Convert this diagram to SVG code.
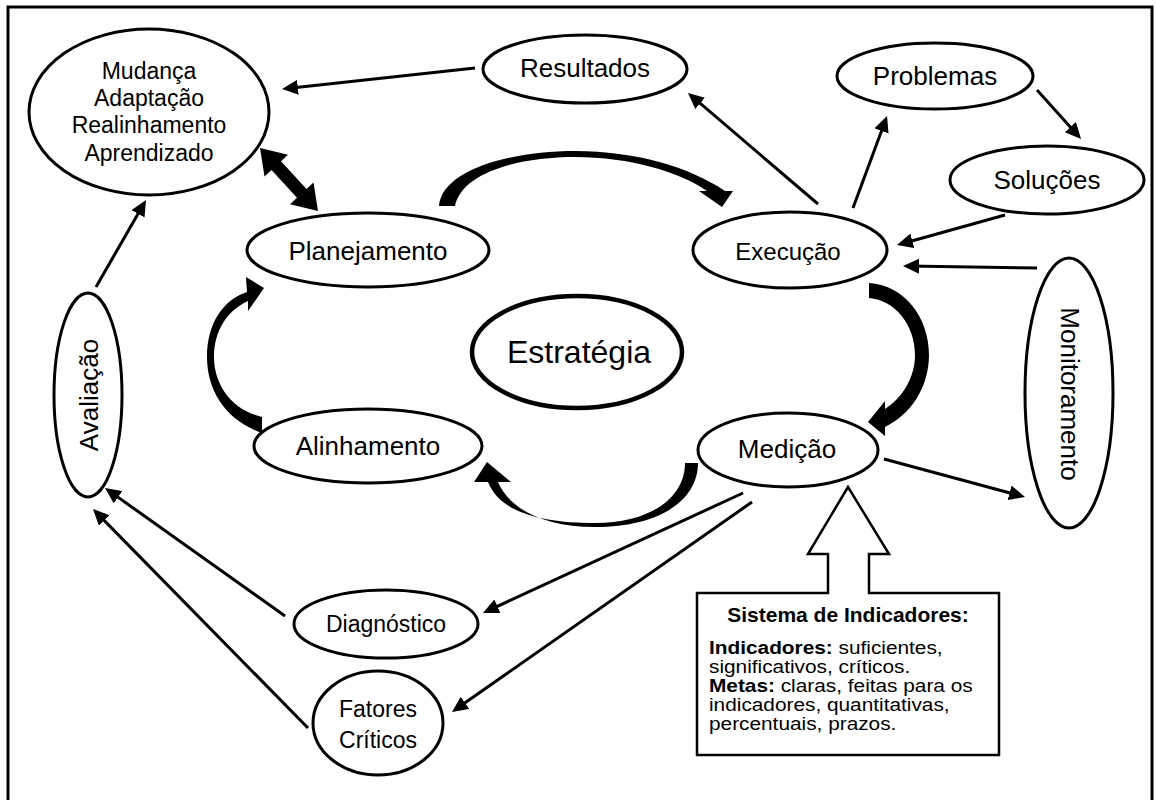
<svg xmlns="http://www.w3.org/2000/svg" width="1156" height="800" viewBox="0 0 1156 800">
<defs>
<style>
.n{fill:#fff;stroke:#000;stroke-width:3}
.t{font-family:"Liberation Sans",Arial,sans-serif;fill:#000;text-anchor:middle}
.b{font-family:"Liberation Sans",Arial,sans-serif;fill:#000;font-size:17.5px}
.c{stroke:#000;stroke-width:3;fill:none;marker-end:url(#ah)}
.k{fill:#000;stroke:none}
</style>
<marker id="ah" viewBox="0 0 16 15" refX="11" refY="7.5" markerWidth="16" markerHeight="15" markerUnits="userSpaceOnUse" orient="auto"><path d="M0,0 L16,7.5 L0,15 Z" fill="#000"/></marker>
</defs>
<rect x="0" y="0" width="1156" height="800" fill="#fff"/>
<rect x="8" y="7" width="1144" height="800" fill="none" stroke="#000" stroke-width="3"/>

<g id="mudanca">
<ellipse class="n" cx="149" cy="112" rx="120" ry="83"/>
<text class="t" font-size="23" x="149" y="79">Mudança</text>
<text class="t" font-size="23" x="149" y="106">Adaptação</text>
<text class="t" font-size="23" x="149" y="133">Realinhamento</text>
<text class="t" font-size="23" x="149" y="161">Aprendizado</text>
</g>
<g id="resultados">
<ellipse class="n" cx="585" cy="69" rx="102" ry="34"/>
<text class="t" font-size="26" x="585" y="77">Resultados</text>
</g>
<g id="problemas">
<ellipse class="n" cx="935" cy="76" rx="98" ry="33"/>
<text class="t" font-size="26" x="935" y="85">Problemas</text>
</g>
<g id="solucoes">
<ellipse class="n" cx="1047" cy="180" rx="97" ry="34"/>
<text class="t" font-size="26" x="1047" y="189">Soluções</text>
</g>
<g id="planejamento">
<ellipse class="n" cx="368" cy="250" rx="121" ry="37"/>
<text class="t" font-size="26" x="368" y="260">Planejamento</text>
</g>
<g id="execucao">
<ellipse class="n" cx="790" cy="250" rx="97" ry="38"/>
<text class="t" font-size="24" x="788" y="260">Execução</text>
</g>
<g id="estrategia">
<ellipse class="n" style="stroke-width:4.5" cx="577" cy="352" rx="105" ry="56"/>
<text class="t" font-size="32" x="579" y="363">Estratégia</text>
</g>
<g id="alinhamento">
<ellipse class="n" cx="368" cy="446" rx="114" ry="37"/>
<text class="t" font-size="26" x="368" y="455">Alinhamento</text>
</g>
<g id="medicao">
<ellipse class="n" cx="788" cy="450" rx="90" ry="37"/>
<text class="t" font-size="26" x="787" y="458">Medição</text>
</g>
<g id="monitoramento">
<ellipse class="n" cx="1069" cy="393" rx="44" ry="135"/>
<text class="t" font-size="26" transform="translate(1061,394) rotate(90)" x="0" y="0">Monitoramento</text>
</g>
<g id="avaliacao">
<ellipse class="n" cx="88" cy="395" rx="34" ry="102"/>
<text class="t" font-size="26" transform="translate(98,395) rotate(-90)" x="0" y="0">Avaliação</text>
</g>
<g id="diagnostico">
<ellipse class="n" cx="386" cy="624" rx="92" ry="34"/>
<text class="t" font-size="23" x="386" y="632">Diagnóstico</text>
</g>
<g id="fatores">
<ellipse class="n" cx="378" cy="723" rx="65" ry="52"/>
<text class="t" font-size="23" x="378" y="717">Fatores</text>
<text class="t" font-size="23" x="378" y="748">Críticos</text>
</g>
<g id="indicadores">
<path d="M697,593 L828,593 L828,554 L808,554 L848,487 L889,554 L869,554 L869,593 L999,593 L999,755 L697,755 Z" fill="#fff" stroke="#000" stroke-width="2.5"/>
<text class="t" font-size="20" font-weight="bold" transform="translate(848,622) scale(1.05,1)" x="0" y="0">Sistema de Indicadores:</text>
<g transform="translate(709,0) scale(1.19,1)">
<text class="b" x="0" y="654"><tspan font-weight="bold">Indicadores:</tspan> suficientes,</text>
<text class="b" x="0" y="673">significativos, críticos.</text>
<text class="b" x="0" y="692"><tspan font-weight="bold">Metas:</tspan> claras, feitas para os</text>
<text class="b" x="0" y="711">indicadores, quantitativas,</text>
<text class="b" x="0" y="730">percentuais, prazos.</text>
</g>
</g>

<g id="connectors">
<line class="c" x1="475" y1="68" x2="287" y2="88.5"/>
<line class="c" x1="818" y1="204" x2="691.8" y2="96.2"/>
<line class="c" x1="853" y1="208" x2="885.3" y2="120.7"/>
<line class="c" x1="1037" y1="90" x2="1077.7" y2="135.3"/>
<line class="c" x1="1005" y1="215" x2="901.8" y2="243.7"/>
<line class="c" x1="1037" y1="268" x2="908" y2="266.1"/>
<line class="c" x1="884" y1="459" x2="1020.2" y2="495.7"/>
<line class="c" x1="743" y1="493" x2="487.5" y2="610.9"/>
<line class="c" x1="752" y1="502" x2="456.1" y2="709.1"/>
<line class="c" x1="285" y1="616" x2="109.1" y2="490.9"/>
<line class="c" x1="308" y1="728" x2="96.5" y2="512.6"/>
<line class="c" x1="96" y1="287" x2="143.5" y2="204.3"/>
<polygon class="k" points="260,148 264.5,176.5 271.5,170.1 297,197.7 290,204.2 318,211 313.5,182.5 306.5,188.9 281,161.3 288,154.8"/>
<path class="k" d="M439,206 C442,170 510,151 575,151 C635,151 690,167 725,191 L733,191 L722,207 L699,191 L707,191 C680,172 630,157 575,157 C520,157 462,172 455,206 Z"/>
<path class="k" d="M869,283 C905,285 929,318 929,355 C929,388 910,415 885,427 L885,436 L868,422 L885,401 L885,409 C902,398 915,378 915,355 C915,325 895,300 869,298 Z"/>
<path class="k" d="M698,463 C698,500 660,527 595,527 C545,527 510,510 498,482 L511,482 L487,462 L474,482 L488,482 C500,512 540,523 595,523 C650,523 685,498 685,463 Z"/>
<path class="k" d="M262,433 C225,420 207,390 207,357 C207,325 222,300 247,292 L246,277 L264,288 L248,311 L248,301 C228,310 214,330 214,357 C214,385 232,410 262,417 Z"/>
</g>
</svg>
